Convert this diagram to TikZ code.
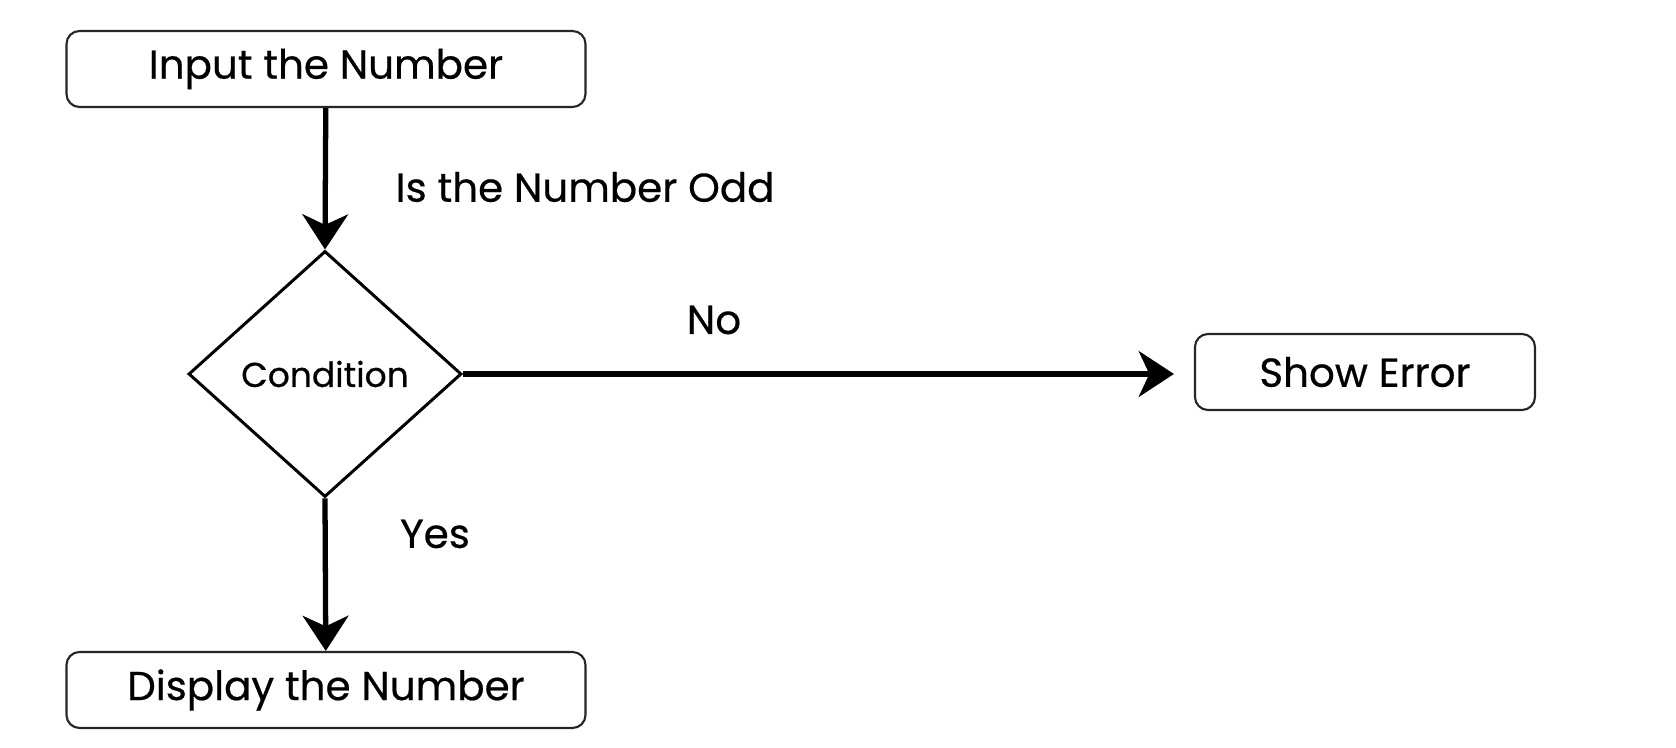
\documentclass[tikz,border=0pt]{standalone}
\usepackage{fontspec}
\setmainfont{Poppins}[FakeBold=0.5]
\usetikzlibrary{arrows.meta,shapes.geometric}
\begin{document}
\begin{tikzpicture}[
  stepbox/.style={draw=black!85,line width=0.6pt,rounded corners=1.3mm,minimum height=0.76cm,inner sep=0pt,font=\fontsize{11.5}{13}\selectfont},
  decision/.style={draw,diamond,line width=0.85pt,minimum width=2.73cm,minimum height=2.46cm,aspect=1.11,inner sep=0pt,font=\fontsize{9.8}{11}\selectfont},
  flow/.style={line width=1.5pt,-{Stealth[length=10pt,width=13pt,inset=3pt]}},
  lbl/.style={inner sep=0pt,font=\fontsize{11.5}{13}\selectfont}]
\useasboundingbox (0,0) rectangle (16.76,7.48);
\node [stepbox,minimum width=5.19cm] (input) at (3.26,6.79) {Input the Number};
\node [decision] (cond) at (3.25,3.74) {Condition};
\node [stepbox,minimum width=3.4cm] (error) at (13.65,3.76) {Show Error};
\node [stepbox,minimum width=5.19cm] (display) at (3.26,0.58) {Display the Number};
\draw [flow] (input) -- (cond.north);
\draw [flow,shorten >=2mm] (cond.east) -- (cond.east -| error.west);
\draw [flow] (cond.south) -- (display);
\node [lbl,anchor=west] (odd) at (3.95,5.61) {Is the Number Odd};
\node [lbl] (no) at (7.14,4.28) {No};
\node [lbl] (yes) at (4.35,2.14) {Yes};
\end{tikzpicture}
\end{document}
